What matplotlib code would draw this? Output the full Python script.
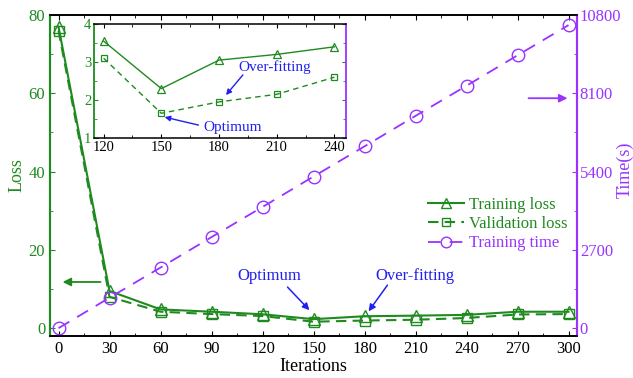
import numpy as np
import matplotlib
matplotlib.use('Agg')
import matplotlib.pyplot as plt
from matplotlib.ticker import MultipleLocator

plt.rcParams.update({
    'font.family': ['Liberation Serif', 'DejaVu Serif'],
    'font.size': 11.5,
    'xtick.direction': 'in',
    'ytick.direction': 'in',
    'mathtext.fontset': 'stix',
})

iterations = [0, 30, 60, 90, 120, 150, 180, 210, 240, 270, 300]
train_loss = [77.0, 9.5, 4.8, 4.2, 3.55, 2.3, 3.05, 3.2, 3.4, 4.2, 4.2]
val_loss = [76.0, 8.0, 4.2, 3.6, 3.1, 1.65, 1.95, 2.15, 2.6, 3.5, 3.6]
train_time = [0, 1050, 2090, 3140, 4180, 5230, 6270, 7320, 8360, 9410, 10450]

GREEN = '#1f8a1f'
PURPLE = '#9933ff'
BLUE = '#2020f0'

W, H = 633, 378
fig = plt.figure(figsize=(W / 100, H / 100), dpi=100)

def px_rect(x0, y0, x1, y1):
    return [x0 / W, 1 - y1 / H, (x1 - x0) / W, (y1 - y0) / H]

ax = fig.add_axes(px_rect(50, 15, 577, 336))
ax2 = ax.twinx()

l1, = ax.plot(iterations, train_loss, '-', color=GREEN, lw=1.5, marker='^',
              ms=9, mfc='none', mec=GREEN, mew=1.0, label='Training loss')
l2, = ax.plot(iterations, val_loss, '--', color=GREEN, lw=1.5, marker='s',
              ms=7, mfc='none', mec=GREEN, mew=1.0, dashes=(5, 3), label='Validation loss')
l3, = ax2.plot(iterations, train_time, '--', color=PURPLE, lw=1.3, marker='o',
               ms=9, mfc='none', mec=PURPLE, mew=1.0, dashes=(7, 5), label='Training time')

ax.set_xlim(-5, 305)
ax.set_ylim(-2, 80)
ax2.set_ylim(-270, 10800)
ax.set_xticks(range(0, 301, 30))
ax.xaxis.set_minor_locator(MultipleLocator(15))
ax.set_yticks([0, 20, 40, 60, 80])
ax.yaxis.set_minor_locator(MultipleLocator(10))
ax2.set_yticks([0, 2700, 5400, 8100, 10800])
ax2.yaxis.set_minor_locator(MultipleLocator(1350))
ax.tick_params(axis='x', which='both', top=True, colors='black', labelsize=12)
ax.tick_params(axis='y', which='both', colors=GREEN, labelcolor=GREEN, labelsize=12)
ax2.tick_params(axis='y', which='both', colors=PURPLE, labelcolor=PURPLE, labelsize=12, pad=2)
for a in (ax, ax2):
    a.spines['left'].set_color(GREEN)
    a.spines['right'].set_color(PURPLE)
    a.spines['left'].set_linewidth(1.5)
    a.spines['right'].set_linewidth(1.5)
    a.spines['top'].set_linewidth(1.2)
    a.spines['bottom'].set_linewidth(1.2)

ax.set_xlabel('Iterations', fontsize=13, labelpad=1)
ax.set_ylabel('Loss', fontsize=13, color=GREEN, labelpad=2)
ax2.set_ylabel('Time(s)', fontsize=13, color=PURPLE)
ax2.yaxis.set_label_coords(1.075, 0.517)

# axis pointer arrows
ax.annotate('', xy=(2.4, 11.8), xytext=(24.7, 11.8),
            arrowprops=dict(arrowstyle='-|>', color=GREEN, lw=1.3, mutation_scale=12,
                            shrinkA=0, shrinkB=0))
ax2.annotate('', xy=(299.4, 7930), xytext=(276.5, 7930),
             arrowprops=dict(arrowstyle='-|>', color=PURPLE, lw=1.3, mutation_scale=12,
                             shrinkA=0, shrinkB=0))

# main annotations
ax.text(124, 13.2, 'Optimum', color=BLUE, fontsize=12, ha='center', va='center')
ax.annotate('', xy=(147.6, 4.6), xytext=(134.7, 10.5),
            arrowprops=dict(arrowstyle='-|>', color=BLUE, lw=1.1, mutation_scale=10,
                            shrinkA=0, shrinkB=0))
ax.text(209.4, 13.3, 'Over-fitting', color=BLUE, fontsize=12, ha='center', va='center')
ax.annotate('', xy=(182.4, 4.3), xytext=(193.5, 11),
            arrowprops=dict(arrowstyle='-|>', color=BLUE, lw=1.1, mutation_scale=10,
                            shrinkA=0, shrinkB=0))

leg = ax2.legend(handles=[l1, l2, l3], loc='upper left', bbox_to_anchor=(416 / W, 1 - 185 / H),
                 bbox_transform=fig.transFigure, frameon=False, fontsize=12,
                 handlelength=2.2, handletextpad=0.3, labelspacing=0.2, borderpad=0.2,
                 markerscale=0.85)
for txt, c in zip(leg.get_texts(), [GREEN, GREEN, PURPLE]):
    txt.set_color(c)

# inset
ins = fig.add_axes(px_rect(94, 24, 346, 138))
ins.set_facecolor('white')
ins.plot(iterations[4:9], train_loss[4:9], '-', color=GREEN, lw=1.0, marker='^',
         ms=6, mfc='none', mec=GREEN, mew=0.9)
ins.plot(iterations[4:9], val_loss[4:9], '--', color=GREEN, lw=1.0, marker='s',
         ms=5, mfc='none', mec=GREEN, mew=0.9, dashes=(4, 3))
ins.set_xlim(115, 246)
ins.set_ylim(1, 4)
ins.set_xticks([120, 150, 180, 210, 240])
ins.xaxis.set_minor_locator(MultipleLocator(15))
ins.set_yticks([1, 2, 3, 4])
ins.yaxis.set_minor_locator(MultipleLocator(0.5))
ins.tick_params(axis='x', which='both', top=True, labelsize=10.5, length=3, pad=2)
ins.tick_params(axis='x', which='minor', length=2)
ins.tick_params(axis='y', which='both', right=True, colors=GREEN, labelcolor=GREEN,
                labelsize=10.5, length=3, pad=2)
ins.tick_params(axis='y', which='minor', length=2)
ins.spines['left'].set_color(GREEN)
ins.spines['right'].set_color(PURPLE)
ins.spines['left'].set_linewidth(1.3)
ins.spines['right'].set_linewidth(1.3)
ins.spines['top'].set_linewidth(1.1)
ins.spines['bottom'].set_linewidth(1.1)

ins.text(187.2, 1.28, 'Optimum', color=BLUE, fontsize=11, ha='center', va='center')
ins.annotate('', xy=(151.7, 1.55), xytext=(169.3, 1.34),
             arrowprops=dict(arrowstyle='-|>', color=BLUE, lw=1.0, mutation_scale=8,
                             shrinkA=0, shrinkB=0))
ins.text(208.8, 2.87, 'Over-fitting', color=BLUE, fontsize=11, ha='center', va='center')
ins.annotate('', xy=(183.6, 2.13), xytext=(192.4, 2.66),
             arrowprops=dict(arrowstyle='-|>', color=BLUE, lw=1.0, mutation_scale=8,
                             shrinkA=0, shrinkB=0))

fig.savefig('out.png', dpi=100)
plt.close(fig)
